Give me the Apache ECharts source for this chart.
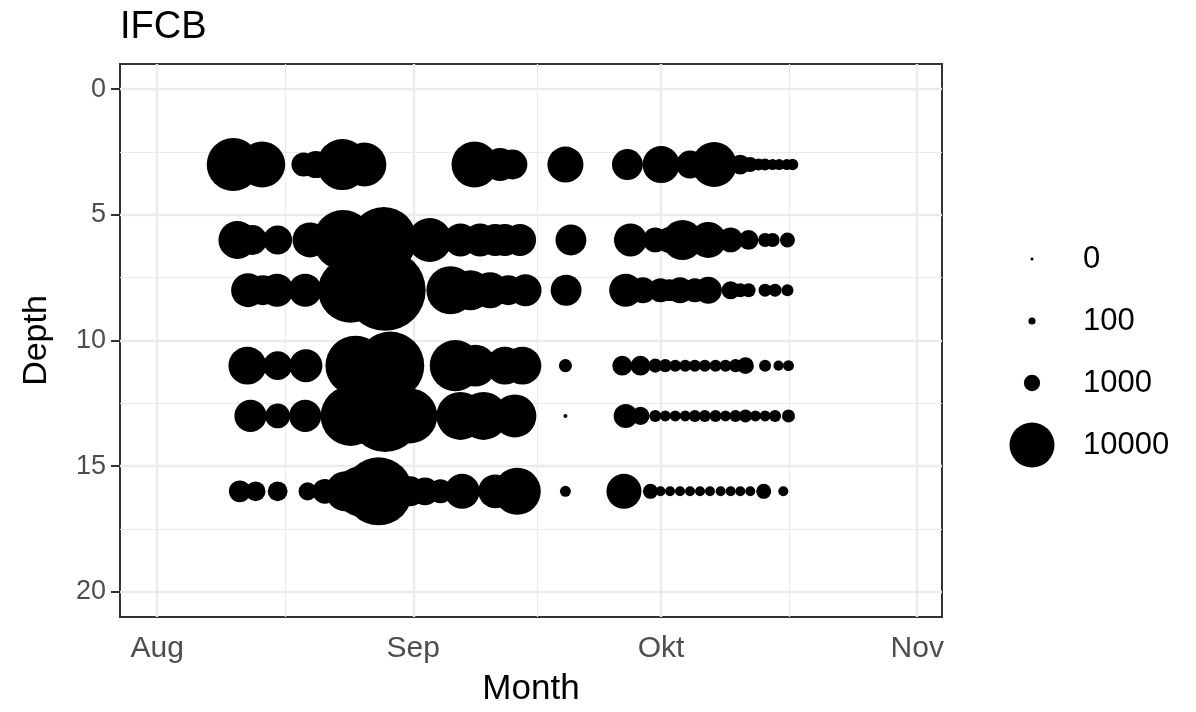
<!DOCTYPE html>
<html>
<head>
<meta charset="UTF-8" />
<title>IFCB</title>
<script src="https://cdn.jsdelivr.net/npm/echarts@6/dist/echarts.min.js"></script>
<style>
body{ margin:0; background:#fff; }
#chart{ width:1196px; height:712px; }
</style>
</head>
<body>
<div id="chart"></div>
<script>
// sampling depths (m) and counts per sample: [date, count]
var depth3 = [
	['2021-08-10 05:00', 14200], ['2021-08-13 17:00', 10500], ['2021-08-18 17:00', 2500],
	['2021-08-20 05:00', 3300], ['2021-08-23 10:00', 13100], ['2021-08-26 02:00', 9500],
	['2021-09-08 10:00', 10500], ['2021-09-11 12:00', 5100], ['2021-09-13 00:00', 4100],
	['2021-09-19 10:00', 6200], ['2021-09-26 22:00', 4400], ['2021-10-01 00:00', 6600],
	['2021-10-04 12:00', 3500], ['2021-10-07 10:00', 10000], ['2021-10-10 14:00', 1600],
	['2021-10-11 19:00', 820], ['2021-10-12 19:00', 460], ['2021-10-13 14:00', 460],
	['2021-10-14 12:00', 360], ['2021-10-15 07:00', 360], ['2021-10-16 05:00', 360],
	['2021-10-16 22:00', 400]
];
var depth6 = [
	['2021-08-10 17:00', 6900], ['2021-08-12 12:00', 4100], ['2021-08-15 14:00', 3800],
	['2021-08-19 12:00', 5800], ['2021-08-23 12:00', 18400], ['2021-08-28 10:00', 22500],
	['2021-09-03 00:00', 9500], ['2021-09-06 17:00', 5100], ['2021-09-09 02:00', 5100],
	['2021-09-10 22:00', 4800], ['2021-09-12 02:00', 4800], ['2021-09-13 22:00', 4800],
	['2021-09-20 02:00', 4400], ['2021-09-27 07:00', 5100], ['2021-09-30 07:00', 2700],
	['2021-10-02 00:00', 3000], ['2021-10-03 14:00', 7800], ['2021-10-06 17:00', 6200],
	['2021-10-09 10:00', 2700], ['2021-10-11 14:00', 1600], ['2021-10-13 14:00', 690],
	['2021-10-14 12:00', 690], ['2021-10-16 07:00', 820]
];
var depth8 = [
	['2021-08-12 00:00', 5400], ['2021-08-13 19:00', 4100], ['2021-08-15 12:00', 5100],
	['2021-08-18 22:00', 5100], ['2021-08-24 10:00', 21800], ['2021-08-28 14:00', 34700],
	['2021-09-05 12:00', 11500], ['2021-09-07 22:00', 7800], ['2021-09-10 07:00', 6200],
	['2021-09-12 12:00', 4100], ['2021-09-14 14:00', 4800], ['2021-09-19 12:00', 4400],
	['2021-09-26 17:00', 5100], ['2021-09-28 19:00', 3000], ['2021-09-30 22:00', 2500],
	['2021-10-02 00:00', 2000], ['2021-10-03 07:00', 3000], ['2021-10-05 02:00', 2500],
	['2021-10-06 17:00', 3300], ['2021-10-09 10:00', 1300], ['2021-10-10 14:00', 690],
	['2021-10-11 14:00', 690], ['2021-10-13 14:00', 570], ['2021-10-14 19:00', 570],
	['2021-10-16 07:00', 460]
];
var depth11 = [
	['2021-08-11 22:00', 6900], ['2021-08-15 14:00', 3800], ['2021-08-19 00:00', 5100],
	['2021-08-25 00:00', 18400], ['2021-08-29 05:00', 24000], ['2021-09-06 02:00', 13100],
	['2021-09-08 12:00', 8600], ['2021-09-12 02:00', 6900], ['2021-09-14 05:00', 6900],
	['2021-09-19 10:00', 570], ['2021-09-26 07:00', 1600], ['2021-09-28 12:00', 1600],
	['2021-09-30 07:00', 690], ['2021-10-01 12:00', 570], ['2021-10-02 17:00', 460],
	['2021-10-03 22:00', 460], ['2021-10-05 02:00', 460], ['2021-10-06 07:00', 460],
	['2021-10-07 14:00', 460], ['2021-10-08 19:00', 460], ['2021-10-10 00:00', 570],
	['2021-10-11 05:00', 1100], ['2021-10-13 14:00', 460], ['2021-10-15 05:00', 280],
	['2021-10-16 10:00', 360]
];
var depth13 = [
	['2021-08-12 07:00', 4800], ['2021-08-15 14:00', 2700], ['2021-08-18 22:00', 4800],
	['2021-08-24 10:00', 18400], ['2021-08-28 14:00', 27200], ['2021-08-31 14:00', 15300],
	['2021-09-06 17:00', 11500], ['2021-09-09 12:00', 11500], ['2021-09-13 07:00', 9100],
	['2021-09-19 10:00', 6], ['2021-09-26 17:00', 2500], ['2021-09-28 12:00', 1300],
	['2021-09-30 07:00', 460], ['2021-10-01 12:00', 360], ['2021-10-02 17:00', 360],
	['2021-10-03 22:00', 360], ['2021-10-05 02:00', 460], ['2021-10-06 07:00', 460],
	['2021-10-07 14:00', 460], ['2021-10-08 19:00', 360], ['2021-10-10 00:00', 460],
	['2021-10-11 05:00', 570], ['2021-10-12 10:00', 360], ['2021-10-13 14:00', 360],
	['2021-10-14 19:00', 460], ['2021-10-16 10:00', 570]
];
var depth16 = [
	['2021-08-11 00:00', 2000], ['2021-08-12 22:00', 1600], ['2021-08-15 14:00', 1600],
	['2021-08-19 05:00', 1300], ['2021-08-21 07:00', 2700], ['2021-08-23 19:00', 7800],
	['2021-08-25 14:00', 12500], ['2021-08-27 19:00', 24000], ['2021-08-31 14:00', 4100],
	['2021-09-02 10:00', 3500], ['2021-09-04 07:00', 2500], ['2021-09-06 22:00', 5800],
	['2021-09-10 22:00', 5400], ['2021-09-13 14:00', 11000], ['2021-09-19 10:00', 360],
	['2021-09-26 12:00', 5800], ['2021-09-29 17:00', 820], ['2021-09-30 22:00', 280],
	['2021-10-02 02:00', 280], ['2021-10-03 07:00', 280], ['2021-10-04 12:00', 280],
	['2021-10-05 17:00', 280], ['2021-10-06 22:00', 280], ['2021-10-08 05:00', 280],
	['2021-10-09 10:00', 280], ['2021-10-10 14:00', 280], ['2021-10-11 19:00', 280],
	['2021-10-13 10:00', 820], ['2021-10-15 19:00', 280]
];

var depthRows = [[3, depth3], [6, depth6], [8, depth8], [11, depth11], [13, depth13], [16, depth16]];

var monthTicks = ['2021-08-01', '2021-09-01', '2021-10-01', '2021-11-01'];
var monthLabels = ['Aug', 'Sep', 'Okt', 'Nov'];
var monthMinor = ['2021-08-16 12:00', '2021-09-16 00:00', '2021-10-16 12:00'];
var depthTicks = [0, 5, 10, 15, 20];
var depthMinor = [2.5, 7.5, 12.5, 17.5];
var legendBreaks = [0, 100, 1000, 10000];

var FONT = '"Liberation Sans", Arial, sans-serif';

function ts(s){ return +echarts.time.parse(s); }
// ggplot area scale: diameter grows with sqrt(count)
function bubbleSize(v){ return 3 + 0.42 * Math.sqrt(v); }

var majorTs = monthTicks.map(ts);

var gridLines = [];
majorTs.forEach(function(t){ gridLines.push({ xAxis: t, lineStyle: { width: 2.4 } }); });
monthMinor.forEach(function(d){ gridLines.push({ xAxis: ts(d), lineStyle: { width: 1.2 } }); });
depthTicks.forEach(function(v){ gridLines.push({ yAxis: v, lineStyle: { width: 2.4 } }); });
depthMinor.forEach(function(v){ gridLines.push({ yAxis: v, lineStyle: { width: 1.2 } }); });

var series = [{
	type: 'scatter',
	xAxisIndex: 0, yAxisIndex: 0,
	data: [],
	z: 1,
	silent: true,
	markLine: {
		silent: true,
		z: 1,
		symbol: ['none', 'none'],
		label: { show: false },
		animation: false,
		lineStyle: { color: '#ebebeb', type: 'solid' },
		data: gridLines
	}
}];

depthRows.forEach(function(row){
	series.push({
		type: 'scatter',
		xAxisIndex: 0, yAxisIndex: 0,
		z: 3,
		data: row[1].map(function(p){ return [ts(p[0]), row[0], p[1]]; }),
		symbolSize: function(val){ return bubbleSize(val[2]); },
		itemStyle: { color: '#000', opacity: 1 }
	});
});

// size legend
series.push({
	type: 'scatter',
	xAxisIndex: 1, yAxisIndex: 1,
	data: legendBreaks.map(function(b){ return [0, String(b), b]; }),
	symbolSize: function(val){ return bubbleSize(val[2]); },
	itemStyle: { color: '#000', opacity: 1 }
});

var chart = echarts.init(document.getElementById('chart'));
chart.setOption({
	animation: false,
	backgroundColor: '#fff',
	title: {
		text: 'IFCB',
		left: 115, top: 4,
		textStyle: { fontFamily: FONT, fontSize: 38, fontWeight: 'normal', color: '#000' }
	},
	grid: [
		{ left: 120, right: 254, top: 64, bottom: 94, show: true, borderColor: '#333', borderWidth: 2, backgroundColor: '#fff' },
		{ left: 1008, width: 48, top: 228, height: 248 }
	],
	xAxis: [{
		// time as a plain value axis (ms) so month ticks can be placed exactly
		type: 'value',
		gridIndex: 0,
		min: ts('2021-07-27 12:00'),
		max: ts('2021-11-04 00:00'),
		name: 'Month',
		nameLocation: 'middle',
		nameGap: 55,
		nameMoveOverlap: false,
		nameTextStyle: { fontFamily: FONT, fontSize: 35, color: '#000', verticalAlign: 'top' },
		axisLine: { show: false },
		splitLine: { show: false },
		axisTick: { show: true, length: 9, customValues: majorTs, lineStyle: { color: '#333', width: 2 } },
		axisLabel: {
			customValues: majorTs,
			margin: 17,
			fontFamily: FONT, fontSize: 30, color: '#4d4d4d',
			formatter: function(val){
				var i = majorTs.indexOf(val);
				return i >= 0 ? monthLabels[i] : '';
			}
		}
	}, {
		type: 'value', gridIndex: 1, min: -1, max: 1, show: false
	}],
	yAxis: [{
		type: 'value',
		gridIndex: 0,
		inverse: true,
		min: -1, max: 21,
		name: 'Depth',
		nameLocation: 'middle',
		nameGap: 66,
		nameMoveOverlap: false,
		nameTextStyle: { fontFamily: FONT, fontSize: 34, color: '#000' },
		axisLine: { show: false },
		splitLine: { show: false },
		axisTick: { show: true, length: 9, customValues: depthTicks, lineStyle: { color: '#333', width: 2 } },
		axisLabel: { customValues: depthTicks, margin: 14, fontFamily: FONT, fontSize: 27, color: '#4d4d4d' }
	}, {
		type: 'category',
		gridIndex: 1,
		position: 'right',
		inverse: true,
		data: legendBreaks.map(String),
		axisLine: { show: false },
		axisTick: { show: false },
		splitLine: { show: false },
		axisLabel: { margin: 27, fontFamily: FONT, fontSize: 31, color: '#000' }
	}],
	series: series
});
</script>
</body>
</html>
